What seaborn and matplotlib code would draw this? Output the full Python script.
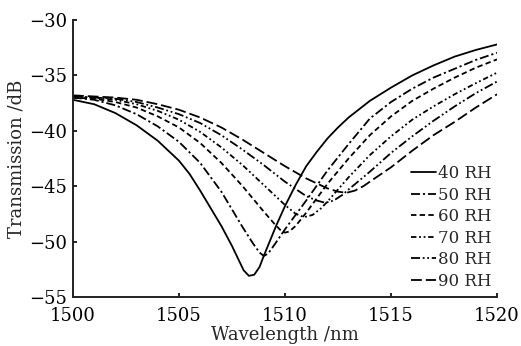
import numpy as np
import pandas as pd
import matplotlib
matplotlib.use('Agg')
import matplotlib.pyplot as plt
import seaborn as sns

# wavelength (nm) / transmission (dB), one pair per RH level
wl_40 = [1500, 1501, 1502, 1503, 1504, 1505, 1505.5, 1506, 1506.5, 1507, 1507.5, 1507.8, 1508.05, 1508.3,
         1508.55, 1508.8, 1509, 1509.3, 1509.6, 1510, 1510.5, 1511, 1511.5, 1512, 1512.5, 1513, 1514,
         1515, 1516, 1517, 1518, 1519, 1520]
tr_40 = [-37.2, -37.6, -38.4, -39.5, -40.9, -42.7, -43.9, -45.4, -47.0, -48.6, -50.4, -51.6, -52.6, -53.1,
         -53.0, -52.3, -51.3, -49.9, -48.5, -46.8, -44.9, -43.2, -41.9, -40.7, -39.7, -38.8, -37.3,
         -36.1, -35.0, -34.1, -33.3, -32.7, -32.2]

wl_50 = [1500, 1501, 1502, 1503, 1504, 1505, 1506, 1507, 1507.5, 1508, 1508.5, 1508.8, 1509, 1509.2,
         1509.5, 1510, 1510.5, 1511, 1512, 1513, 1514, 1515, 1516, 1517, 1518, 1519, 1520]
tr_50 = [-37.0, -37.2, -37.7, -38.5, -39.6, -41.0, -42.9, -45.5, -47.1, -48.7, -50.2, -51.0, -51.3, -51.1,
         -50.3, -48.9, -47.6, -46.3, -43.6, -41.2, -38.9, -37.4, -36.2, -35.2, -34.4, -33.6, -32.95]

wl_60 = [1500, 1501, 1502, 1503, 1504, 1505, 1506, 1507, 1508, 1509, 1509.5, 1509.8, 1510, 1510.2,
         1510.5, 1511, 1512, 1513, 1514, 1515, 1516, 1517, 1518, 1519, 1520]
tr_60 = [-37.0, -37.1, -37.4, -37.9, -38.7, -39.7, -41.1, -42.9, -45.0, -47.3, -48.4, -49.0, -49.2, -49.1,
         -48.6, -47.4, -44.8, -42.5, -40.4, -38.7, -37.3, -36.2, -35.2, -34.3, -33.55]

wl_70 = [1500, 1501, 1502, 1503, 1504, 1505, 1506, 1507, 1508, 1509, 1510, 1510.5, 1510.9, 1511.3,
         1511.7, 1512, 1513, 1514, 1515, 1516, 1517, 1518, 1519, 1520]
tr_70 = [-36.9, -37.0, -37.2, -37.6, -38.2, -39.0, -40.1, -41.5, -43.1, -44.9, -46.7, -47.5, -47.8, -47.6,
         -47.0, -46.4, -44.2, -42.2, -40.5, -39.0, -37.8, -36.7, -35.7, -34.75]

wl_80 = [1500, 1501, 1502, 1503, 1504, 1505, 1506, 1507, 1508, 1509, 1510, 1511, 1511.5, 1511.9,
         1512.3, 1512.7, 1513, 1514, 1515, 1516, 1517, 1518, 1519, 1520]
tr_80 = [-36.9, -37.0, -37.1, -37.4, -37.9, -38.5, -39.3, -40.4, -41.7, -43.1, -44.6, -45.9, -46.3, -46.5,
         -46.3, -45.8, -45.3, -43.7, -42.0, -40.5, -39.1, -37.8, -36.6, -35.55]

wl_90 = [1500, 1501, 1502, 1503, 1504, 1505, 1506, 1507, 1508, 1509, 1510, 1511, 1512, 1512.5,
         1512.9, 1513.3, 1513.7, 1514, 1515, 1516, 1517, 1518, 1519, 1520]
tr_90 = [-36.8, -36.9, -37.0, -37.2, -37.6, -38.1, -38.8, -39.7, -40.8, -42.0, -43.2, -44.3, -45.2, -45.5,
         -45.6, -45.4, -45.0, -44.6, -43.3, -41.8, -40.4, -39.2, -37.9, -36.7]

labels = ['40 RH', '50 RH', '60 RH', '70 RH', '80 RH', '90 RH']
x_ticks = [1500, 1505, 1510, 1515, 1520]
y_ticks = [-55, -50, -45, -40, -35, -30]

series = [(wl_40, tr_40), (wl_50, tr_50), (wl_60, tr_60), (wl_70, tr_70), (wl_80, tr_80), (wl_90, tr_90)]
df = pd.concat([pd.DataFrame({'Wavelength': w, 'Transmission': t, 'RH': lab})
                for (w, t), lab in zip(series, labels)], ignore_index=True)

sns.set_style('ticks')
plt.rcParams['font.family'] = ['DejaVu Serif']
plt.rcParams['axes.unicode_minus'] = True

dash_map = {
    '40 RH': '',
    '50 RH': (5, 1.6, 1.2, 1.6),
    '60 RH': (3, 1.8),
    '70 RH': (3, 1.5, 1, 1.5, 1, 1.5),
    '80 RH': (5, 1.5, 1, 1.5, 1, 1.5),
    '90 RH': (6, 2.2),
}

fig = plt.figure(figsize=(5.21, 3.46), dpi=100)
ax = fig.add_axes([0.140, 0.142, 0.814, 0.800])
sns.lineplot(data=df, x='Wavelength', y='Transmission', hue='RH', style='RH',
             palette=['black'] * 6, dashes=dash_map, estimator=None, sort=False,
             linewidth=1.3, ax=ax)

ax.set_xlim(1500, 1520)
ax.set_ylim(-55, -30)
ax.set_xticks(x_ticks)
ax.set_yticks(y_ticks)
ax.tick_params(direction='in', length=3, width=1.2, labelsize=13, colors='black')
ax.tick_params(axis='x', pad=7)
ax.tick_params(axis='y', pad=4)
for side in ['top', 'right']:
    ax.spines[side].set_visible(False)
for side in ['left', 'bottom']:
    ax.spines[side].set_linewidth(1.4)
    ax.spines[side].set_color('#222222')
ax.set_xlabel('Wavelength /nm', fontsize=13, labelpad=1)
ax.set_ylabel('Transmission /dB', fontsize=13, labelpad=3)

handles, labs = ax.get_legend_handles_labels()
ax.legend(handles, labs, loc='lower right', bbox_to_anchor=(1.01, -0.01), frameon=False, fontsize=12,
          handlelength=1.5, handletextpad=0.1, labelspacing=0.27, borderaxespad=0.2)

fig.savefig('out.png', dpi=100)
